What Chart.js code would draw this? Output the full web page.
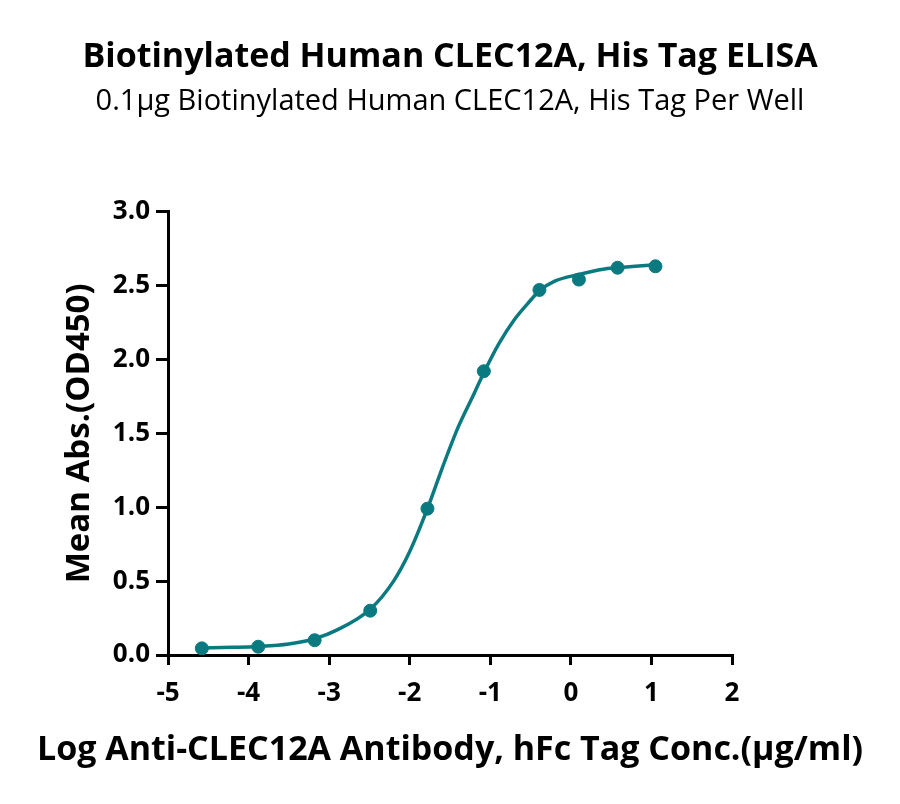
<!DOCTYPE html>
<html>
<head>
<meta charset="utf-8">
<script src="https://cdn.jsdelivr.net/npm/chart.js@4"></script>
<style>
  html, body { margin: 0; padding: 0; background: #fff; }
  #wrap { width: 900px; height: 804px; }
</style>
</head>
<body>
<div id="wrap"><canvas id="elisaChart" width="900" height="804"></canvas></div>
<script>
// measured points (log conc vs mean OD450)
const logConc = [-4.58, -3.88, -3.18, -2.49, -1.78, -1.08, -0.39, 0.10, 0.58, 1.05];
const meanAbs = [0.045, 0.056, 0.10, 0.30, 0.99, 1.92, 2.47, 2.54, 2.62, 2.63];

// fitted curve
const fitX = [-4.58, -4.2, -3.88, -3.5, -3.18, -2.9, -2.49, -2.2, -2.0, -1.78, -1.6, -1.4, -1.2, -1.08, -0.9, -0.7, -0.5, -0.39, -0.2, 0.1, 0.4, 0.58, 0.8, 1.05];
const fitY = [0.048, 0.052, 0.058, 0.075, 0.11, 0.17, 0.31, 0.50, 0.70, 0.99, 1.26, 1.54, 1.77, 1.91, 2.10, 2.27, 2.40, 2.465, 2.53, 2.575, 2.61, 2.62, 2.63, 2.64];

const xTicks = [-5, -4, -3, -2, -1, 0, 1, 2];
const yTicks = [0, 0.5, 1.0, 1.5, 2.0, 2.5, 3.0];

const xTitle = "Log Anti-CLEC12A Antibody, hFc Tag Conc.(µg/ml)";

const teal = "#0b7a80";
const fontFam = "'Open Sans', 'Noto Sans', sans-serif";

const points = logConc.map((x, i) => ({ x: x, y: meanAbs[i] }));
const curve = fitX.map((x, i) => ({ x: x, y: fitY[i] }));

// x axis title is wider than the plot, so the scale title would squeeze it
const xTitlePlugin = {
  id: "xTitle",
  afterDraw(chart) {
    const c = chart.ctx;
    c.save();
    c.font = "bold 34px " + fontFam;
    c.fillStyle = "#000";
    c.textAlign = "center";
    c.textBaseline = "middle";
    c.fillText(xTitle, chart.width / 2, 750, 842);
    c.restore();
  }
};

const ctx = document.getElementById("elisaChart").getContext("2d");
new Chart(ctx, {
  type: "scatter",
  data: {
    datasets: [
      {
        label: "fit",
        data: curve,
        showLine: true,
        borderColor: teal,
        borderWidth: 3.5,
        pointRadius: 0,
        cubicInterpolationMode: "monotone",
        fill: false
      },
      {
        label: "data",
        data: points,
        backgroundColor: teal,
        borderColor: teal,
        pointRadius: 6.5,
        showLine: false
      }
    ]
  },
  plugins: [xTitlePlugin],
  options: {
    responsive: false,
    animation: false,
    layout: { padding: 0 },
    plugins: {
      legend: { display: false },
      tooltip: { enabled: false },
      title: {
        display: true,
        text: "Biotinylated Human CLEC12A, His Tag ELISA",
        color: "#000",
        font: { family: fontFam, size: 34, weight: "bold" },
        padding: { top: 37, bottom: 0 }
      },
      subtitle: {
        display: true,
        text: "0.1µg Biotinylated Human CLEC12A, His Tag Per Well",
        color: "#000",
        font: { family: fontFam, size: 29, weight: "normal" },
        padding: { top: 7, bottom: 92 }
      }
    },
    scales: {
      x: {
        type: "linear",
        min: -5,
        max: 2,
        afterBuildTicks: s => { s.ticks = xTicks.map(v => ({ value: v })); },
        afterFit: s => { s.height = 149; },
        border: { color: "#000", width: 3 },
        grid: { drawOnChartArea: false, color: "#000", lineWidth: 3, tickLength: 10 },
        ticks: {
          color: "#000",
          padding: 13,
          font: { family: fontFam, size: 26, weight: "bold" }
        }
      },
      y: {
        type: "linear",
        min: 0,
        max: 3,
        afterBuildTicks: s => { s.ticks = yTicks.map(v => ({ value: v })); },
        afterFit: s => { s.width = 168; },
        border: { color: "#000", width: 3 },
        grid: { drawOnChartArea: false, color: "#000", lineWidth: 3, tickLength: 12 },
        ticks: {
          color: "#000",
          padding: 6,
          font: { family: fontFam, size: 26, weight: "bold" },
          callback: v => v.toFixed(1)
        },
        title: {
          display: true,
          text: "Mean Abs.(OD450)",
          color: "#000",
          font: { family: fontFam, size: 33, weight: "bold" },
          padding: { top: 60, bottom: 0 }
        }
      },
      yRight: {
        type: "linear",
        position: "right",
        display: true,
        afterFit: s => { s.width = 168; },
        border: { display: false },
        grid: { display: false },
        ticks: { display: false }
      }
    }
  }
});
</script>
</body>
</html>
